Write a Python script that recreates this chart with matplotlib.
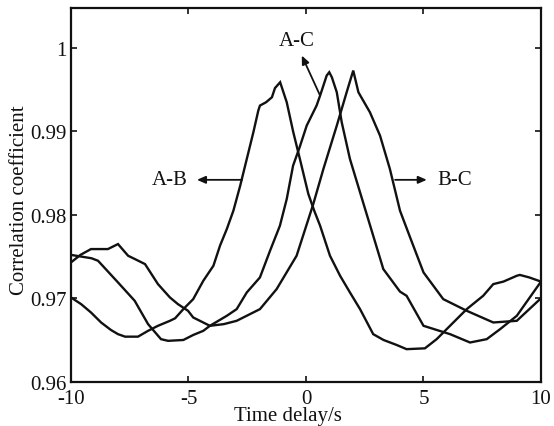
import matplotlib
matplotlib.use("Agg")
import matplotlib.pyplot as plt

# ---------------- data ----------------
ab_x = [-10, -9.57, -9.15, -8.72, -8.3, -8.0, -7.7, -7.15, -6.72, -6.3, -5.79, -5.57,
        -5.22, -4.8, -4.37, -3.94, -3.66, -3.37, -3.09, -2.8, -2.52, -2.24, -2.03, -1.96,
        -1.7, -1.45, -1.32, -1.1, -0.82, -0.54, -0.26, 0.1, 0.35, 0.6, 1.02, 1.45, 1.87,
        2.3, 2.86, 3.3, 3.86, 4.28, 5.06, 5.56, 6.27, 6.84, 7.54, 7.97, 8.4, 8.97, 9.1,
        9.5, 10]
ab_y = [0.9701, 0.9693, 0.9683, 0.9671, 0.9662, 0.9657, 0.9654, 0.9654, 0.9661, 0.9667,
        0.9673, 0.9676, 0.9687, 0.9699, 0.9721, 0.9739, 0.9763, 0.9783, 0.9805, 0.9835,
        0.9867, 0.9899, 0.9925, 0.9931, 0.9935, 0.9941, 0.9952, 0.9959, 0.9935, 0.9899,
        0.9867, 0.9825, 0.9805, 0.9787, 0.9751, 0.9727, 0.9707, 0.9687, 0.9657, 0.9650,
        0.9644, 0.9639, 0.9640, 0.9651, 0.9671, 0.9687, 0.9703, 0.9717, 0.9720, 0.9727,
        0.9728, 0.9725, 0.9720]

ac_x = [-10, -9.13, -8.85, -8.0, -7.29, -6.72, -6.17, -5.87, -5.22, -4.8, -4.37, -4.09,
        -3.37, -2.95, -2.52, -1.96, -1.53, -1.11, -0.82, -0.55, -0.26, 0.03, 0.45, 0.6,
        0.88, 0.99, 1.1, 1.31, 1.52, 1.87, 2.3, 2.86, 3.29, 4.0, 4.28, 5.0, 6.13, 6.98,
        7.69, 8.26, 8.97, 10]
ac_y = [0.9752, 0.9748, 0.9745, 0.9719, 0.9697, 0.9669, 0.9651, 0.9649, 0.9650, 0.9656,
        0.9661, 0.9667, 0.9679, 0.9687, 0.9707, 0.9725, 0.9757, 0.9787, 0.9819, 0.9859,
        0.9882, 0.9907, 0.9931, 0.9943, 0.9967, 0.9971, 0.9965, 0.9947, 0.9911, 0.9867,
        0.9827, 0.9775, 0.9735, 0.9708, 0.9703, 0.9667, 0.9657, 0.9647, 0.9651, 0.9663,
        0.9679, 0.9720]

bc_x = [-10, -9.6, -9.15, -8.43, -8.0, -7.57, -7.28, -6.85, -6.3, -5.79, -5.45, -5.02,
        -4.8, -4.09, -3.5, -2.95, -1.96, -1.25, -0.4, 0.31, 0.74, 1.31, 1.73, 2.01, 2.23,
        2.72, 3.15, 3.57, 4.0, 4.43, 5.0, 5.84, 6.84, 7.97, 8.97, 9.96]
bc_y = [0.9743, 0.9752, 0.9759, 0.9759, 0.9765, 0.9751, 0.9747, 0.9741, 0.9717, 0.9701,
        0.9693, 0.9685, 0.9677, 0.9667, 0.9669, 0.9673, 0.9687, 0.9711, 0.9751, 0.9813,
        0.9855, 0.9907, 0.9947, 0.9973, 0.9947, 0.9923, 0.9895, 0.9855, 0.9805, 0.9773,
        0.9731, 0.9699, 0.9685, 0.9671, 0.9673, 0.9699]

x_ticks = [-10, -5, 0, 5, 10]
x_tick_labels = ["-10", "-5", "0", "5", "10"]
y_ticks = [0.96, 0.97, 0.98, 0.99, 1.0]
y_tick_labels = ["0.96", "0.97", "0.98", "0.99", "1"]

series_names = ["A-B", "A-C", "B-C"]

# ---------------- figure ----------------
plt.rcParams['font.family'] = ['Liberation Serif', 'DejaVu Serif']
FS = 15
INK = '#111111'

fig = plt.figure(figsize=(5.54, 4.27), dpi=100)
ax = fig.add_axes([71 / 554, 1 - 382.7 / 427, 470 / 554, 373.7 / 427])

for xs, ys in [(ab_x, ab_y), (ac_x, ac_y), (bc_x, bc_y)]:
    ax.plot(xs, ys, color=INK, lw=1.7, solid_joinstyle='miter')

ax.set_xlim(-10, 10)
ax.set_ylim(0.96, 1.0048)
ax.set_xticks(x_ticks)
ax.set_xticklabels(x_tick_labels)
ax.set_yticks(y_ticks)
ax.set_yticklabels(y_tick_labels)

ax.tick_params(direction='in', top=True, right=True, length=4, width=1.2,
               labelsize=FS, colors=INK)
ax.tick_params(axis='x', pad=5)
ax.tick_params(axis='y', pad=3)
for s in ax.spines.values():
    s.set_linewidth(1.6)
    s.set_color(INK)

ax.set_xlabel("Time delay/s", fontsize=FS, color=INK)
ax.xaxis.set_label_coords(0.4606, -0.066)
ax.set_ylabel("Correlation coefficient", fontsize=FS, color=INK)
ax.yaxis.set_label_coords(-0.09, 0.489)

arrow_kw = dict(arrowstyle='-|>,head_length=0.5,head_width=0.22', color=INK, lw=1.3,
                shrinkA=0, shrinkB=0)
# A-B
ax.annotate('', xy=(-4.64, 0.9842), xytext=(-2.72, 0.9842), arrowprops=arrow_kw)
ax.text(-5.79, 0.9842, series_names[0], fontsize=FS, color=INK, ha='center', va='center')
# A-C
ax.annotate('', xy=(-0.18, 0.9991), xytext=(0.6, 0.9943), arrowprops=arrow_kw)
ax.text(-0.38, 1.0009, series_names[1], fontsize=FS, color=INK, ha='center', va='center')
# B-C
ax.annotate('', xy=(5.14, 0.9842), xytext=(3.79, 0.9842), arrowprops=arrow_kw)
ax.text(6.32, 0.9842, series_names[2], fontsize=FS, color=INK, ha='center', va='center')

fig.savefig("out.png", dpi=100)
